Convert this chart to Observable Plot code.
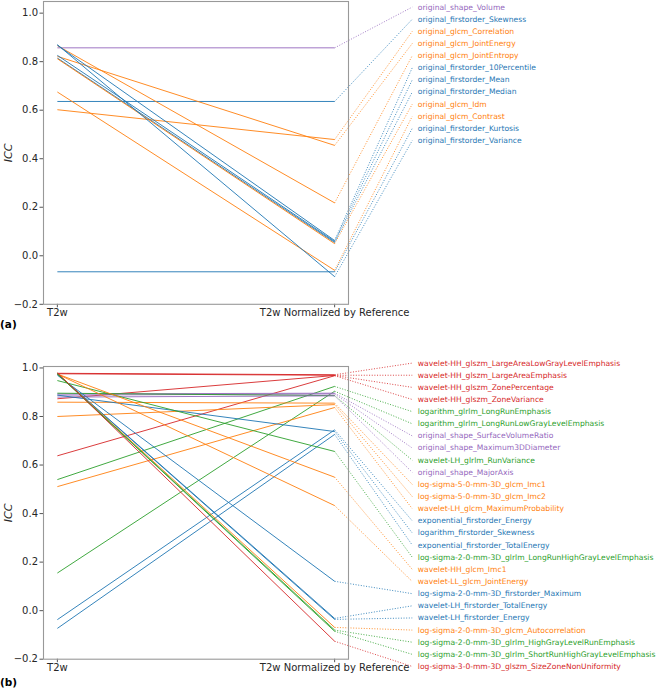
<!DOCTYPE html>
<html>
<head>
<meta charset="utf-8">
<script src="https://cdn.jsdelivr.net/npm/d3@7"></script>
<script src="https://cdn.jsdelivr.net/npm/@observablehq/plot@0.6"></script>
<style>
  html, body { margin: 0; padding: 0; background: #fff; }
  #wrap { position: relative; width: 657px; height: 691px; font-family: "DejaVu Sans", sans-serif; }
  .panel { position: absolute; left: 0; }
  .tag { position: absolute; left: 0; font-weight: bold; font-size: 10.5px; color: #000; }
</style>
</head>
<body>
<div id="wrap">
  <div id="pa" class="panel" style="top:0px"></div>
  <div id="pb" class="panel" style="top:345px"></div>
  <div class="tag" style="top:318px">(a)</div>
  <div class="tag" style="top:676px">(b)</div>
</div>
<script>
// ---------- data ----------
const xTickLabels = ["T2w", "T2w Normalized by Reference"];
const yTicks = [-0.2, 0.0, 0.2, 0.4, 0.6, 0.8, 1.0];

const featureClasses = ["firstorder", "glcm", "glrlm", "glszm", "shape"];
const classColors = ["#1f77b4", "#ff7f0e", "#2ca02c", "#d62728", "#9467bd"];

// Panel (a)
const namesA = [
  "original_shape_Volume",
  "original_firstorder_Skewness",
  "original_glcm_Correlation",
  "original_glcm_JointEnergy",
  "original_glcm_JointEntropy",
  "original_firstorder_10Percentile",
  "original_firstorder_Mean",
  "original_firstorder_Median",
  "original_glcm_Idm",
  "original_glcm_Contrast",
  "original_firstorder_Kurtosis",
  "original_firstorder_Variance"
];
const t2wA  = [0.857, 0.636, 0.602, 0.822, 0.866, 0.868, 0.826, 0.815, 0.812, 0.675, -0.066, 0.870];
const normA = [0.857, 0.636, 0.479, 0.455, 0.218, 0.063, 0.059, 0.055, 0.050, -0.060, -0.066, -0.086];

// Panel (b)
const namesB = [
  "wavelet-HH_glszm_LargeAreaLowGrayLevelEmphasis",
  "wavelet-HH_glszm_LargeAreaEmphasis",
  "wavelet-HH_glszm_ZonePercentage",
  "wavelet-HH_glszm_ZoneVariance",
  "logarithm_glrlm_LongRunEmphasis",
  "logarithm_glrlm_LongRunLowGrayLevelEmphasis",
  "original_shape_SurfaceVolumeRatio",
  "original_shape_Maximum3DDiameter",
  "wavelet-LH_glrlm_RunVariance",
  "original_shape_MajorAxis",
  "log-sigma-5-0-mm-3D_glcm_Imc1",
  "log-sigma-5-0-mm-3D_glcm_Imc2",
  "wavelet-LH_glcm_MaximumProbability",
  "exponential_firstorder_Energy",
  "logarithm_firstorder_Skewness",
  "exponential_firstorder_TotalEnergy",
  "log-sigma-2-0-mm-3D_glrlm_LongRunHighGrayLevelEmphasis",
  "wavelet-HH_glcm_Imc1",
  "wavelet-LL_glcm_JointEnergy",
  "log-sigma-2-0-mm-3D_firstorder_Maximum",
  "wavelet-LH_firstorder_TotalEnergy",
  "wavelet-LH_firstorder_Energy",
  "log-sigma-2-0-mm-3D_glcm_Autocorrelation",
  "log-sigma-2-0-mm-3D_glrlm_HighGrayLevelRunEmphasis",
  "log-sigma-2-0-mm-3D_glrlm_ShortRunHighGrayLevelEmphasis",
  "log-sigma-3-0-mm-3D_glszm_SizeZoneNonUniformity"
];
const t2wB  = [0.978, 0.976, 0.873, 0.638, 0.540, 0.155, 0.893, 0.888, 0.896, 0.880,
               0.859, 0.800, 0.511, -0.037, 0.888, -0.073, 0.948, 0.975, 0.975, 0.970,
               0.976, 0.975, 0.977, 0.976, 0.975, 0.980];
const normB = [0.972, 0.970, 0.969, 0.968, 0.924, 0.904, 0.896, 0.893, 0.886, 0.885,
               0.855, 0.849, 0.837, 0.745, 0.738, 0.726, 0.656, 0.550, 0.433, 0.121,
               -0.032, -0.036, -0.069, -0.080, -0.085, -0.126];

// ---------- drawing ----------
function panel(names, t2w, norm, cfg) {
  const rows = names.map((name, i) => ({
    name,
    cls: name.split("_")[1],
    t2w: t2w[i],
    norm: norm[i],
    ly: cfg.labelTop - 0.05 * i
  }));
  return Plot.plot({
    width: 657,
    height: cfg.height,
    marginLeft: 43,
    marginRight: 309,
    marginTop: cfg.marginTop,
    marginBottom: cfg.marginBottom,
    x: {domain: [-0.05, 1.05]},
    y: {domain: [-0.2, cfg.yTop]},
    color: {domain: featureClasses, range: classColors},
    style: {fontFamily: "DejaVu Sans", background: "transparent", overflow: "visible", color: "#262626"},
    marks: [
      Plot.axisY({ticks: yTicks, tickFormat: d3.format(".1f"), fontSize: 10, tickSize: 3.5, tickPadding: 2, label: null, stroke: "#555"}),
      Plot.axisX({ticks: [0, 1], tickFormat: i => xTickLabels[i], fontSize: 10, tickSize: 3.5, tickPadding: 1, label: null, stroke: "#555"}),
      Plot.link(rows, {x1: () => 0, y1: "t2w", x2: () => 1, y2: "norm", stroke: "cls", strokeWidth: 1, strokeOpacity: 0.9}),
      Plot.link(rows, {x1: () => 1, y1: "norm", x2: () => 1.28, y2: "ly", stroke: "cls", strokeWidth: 1, strokeDasharray: "1,1.65", strokeOpacity: 0.85}),
      Plot.text(rows, {x: () => 1.3, y: "ly", text: "name", fill: "cls", textAnchor: "start", fontSize: 7.6}),
      Plot.frame({stroke: "#999", strokeWidth: 1.1}),
      Plot.text(["ICC"], {frameAnchor: "left", dx: -35, rotate: -90, textAnchor: "middle", lineAnchor: "middle", fontStyle: "italic", fontSize: 11, fill: "#262626"})
    ]
  });
}

document.getElementById("pa").appendChild(
  panel(namesA, t2wA, normA, {height: 340, marginTop: 1, marginBottom: 36.2, yTop: 1.048, labelTop: 1.025})
);
document.getElementById("pb").appendChild(
  panel(namesB, t2wB, normB, {height: 346, marginTop: 21, marginBottom: 32.3, yTop: 1.006, labelTop: 1.02})
);
</script>
</body>
</html>
